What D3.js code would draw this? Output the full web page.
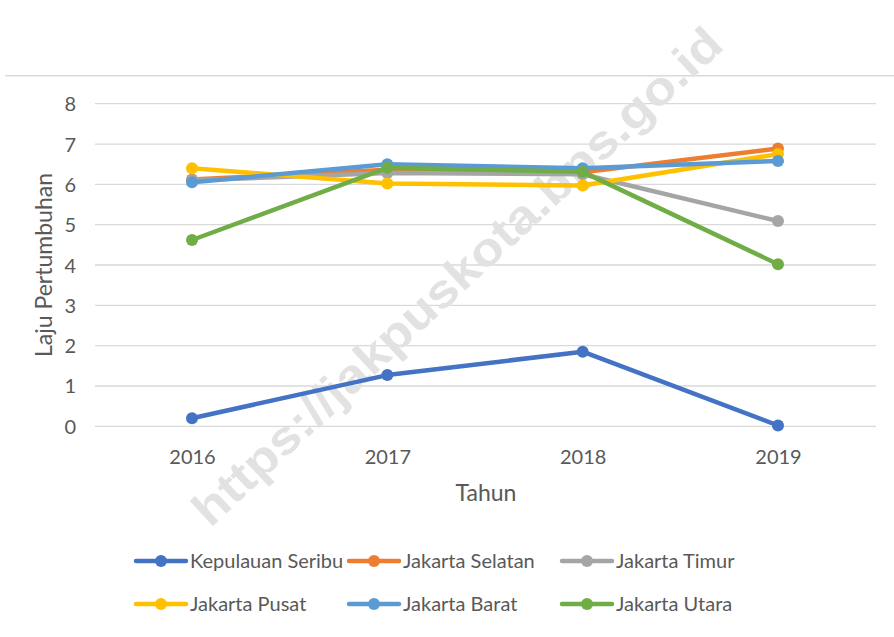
<!DOCTYPE html>
<html><head><meta charset="utf-8">
<script src="https://cdn.jsdelivr.net/npm/d3@7"></script>
<style>body{margin:0;background:#fff}svg{display:block}</style>
</head><body>
<script>
const years = ["2016","2017","2018","2019"];
const seriesNames = ["Kepulauan Seribu","Jakarta Selatan","Jakarta Timur","Jakarta Pusat","Jakarta Barat","Jakarta Utara"];
const kepulauanSeribu = [0.20, 1.27, 1.85, 0.02];
const jakartaSelatan  = [6.12, 6.36, 6.30, 6.89];
const jakartaTimur    = [6.10, 6.28, 6.25, 5.09];
const jakartaPusat    = [6.40, 6.02, 5.97, 6.75];
const jakartaBarat    = [6.05, 6.50, 6.40, 6.58];
const jakartaUtara    = [4.62, 6.41, 6.31, 4.02];
const yTicks = [0,1,2,3,4,5,6,7,8];
const colors = ["#4472C4","#ED7D31","#A5A5A5","#FFC000","#5B9BD5","#70AD47"];
const seriesValues = [kepulauanSeribu, jakartaSelatan, jakartaTimur, jakartaPusat, jakartaBarat, jakartaUtara];

const W=894,H=637;
const svg=d3.select("body").append("svg").attr("width",W).attr("height",H);
const font="Lato, 'Open Sans', sans-serif";
const txt="#595959";

const x=d3.scalePoint().domain(years).range([192,778]);
const y=d3.scaleLinear().domain([0,8]).range([426.3,103.7]);

// top separator line
svg.append("line").attr("x1",5).attr("x2",894).attr("y1",75.7).attr("y2",75.7)
  .attr("stroke","#d9d9d9").attr("stroke-width",1.5);

// grid
svg.append("g").selectAll("line").data(yTicks).join("line")
  .attr("x1",95).attr("x2",876).attr("y1",d=>y(d)).attr("y2",d=>y(d))
  .attr("stroke","#d9d9d9").attr("stroke-width",1.3);

// watermark
svg.append("text").attr("transform","translate(468,288) rotate(-43)")
  .attr("text-anchor","middle").attr("font-family","'Liberation Sans', Arial, sans-serif")
  .attr("font-weight","bold").attr("font-size",47).attr("fill","#e2e2e2")
  .attr("textLength",705).attr("lengthAdjust","spacingAndGlyphs")
  .text("https://jakpuskota.bps.go.id");

// y axis labels
const yAxis=d3.axisLeft(y).tickValues(yTicks).tickSize(0).tickPadding(0).tickFormat(d3.format("d"));
const ya=svg.append("g").attr("transform","translate(76,0)").call(yAxis);
ya.select(".domain").remove();
ya.selectAll("text").attr("font-family",font).attr("font-size",20).attr("fill",txt).attr("dy","0.35em");

// x axis labels
const xAxis=d3.axisBottom(x).tickSize(0).tickPadding(0);
const xa=svg.append("g").attr("transform","translate(0,457)").call(xAxis);
xa.select(".domain").remove();
xa.selectAll("text").attr("font-family",font).attr("font-size",20).attr("fill",txt).attr("dy","0.35em");

// axis titles
svg.append("text").attr("x",486).attr("y",493).attr("dy","0.35em").attr("text-anchor","middle")
  .attr("font-family",font).attr("font-size",23).attr("fill",txt).text("Tahun");
svg.append("text").attr("transform","translate(44,265) rotate(-90)").attr("dy","0.35em").attr("text-anchor","middle")
  .attr("font-family",font).attr("font-size",23).attr("fill",txt).text("Laju Pertumbuhan");

// lines
const line=d3.line().x((d,i)=>x(years[i])).y(d=>y(d));
seriesValues.forEach((vals,k)=>{
  const g=svg.append("g");
  g.append("path").attr("d",line(vals)).attr("fill","none").attr("stroke",colors[k])
    .attr("stroke-width",4.5).attr("stroke-linejoin","round").attr("stroke-linecap","round");
  g.selectAll("circle").data(vals).join("circle")
    .attr("cx",(d,i)=>x(years[i])).attr("cy",d=>y(d)).attr("r",6).attr("fill",colors[k]);
});

// legend
const legX=[136,349,562], legY=[561,604];
seriesNames.forEach((n,k)=>{
  const lx=legX[k%3], ly=legY[Math.floor(k/3)];
  const g=svg.append("g").attr("transform",`translate(${lx},${ly})`);
  g.append("line").attr("x1",0).attr("x2",50).attr("y1",0).attr("y2",0)
    .attr("stroke",colors[k]).attr("stroke-width",4.5).attr("stroke-linecap","round");
  g.append("circle").attr("cx",25).attr("cy",0).attr("r",6).attr("fill",colors[k]);
  g.append("text").attr("x",54).attr("y",0).attr("dy","0.35em").attr("font-family",font)
    .attr("font-size",20).attr("fill",txt).text(n);
});
</script>
</body></html>
